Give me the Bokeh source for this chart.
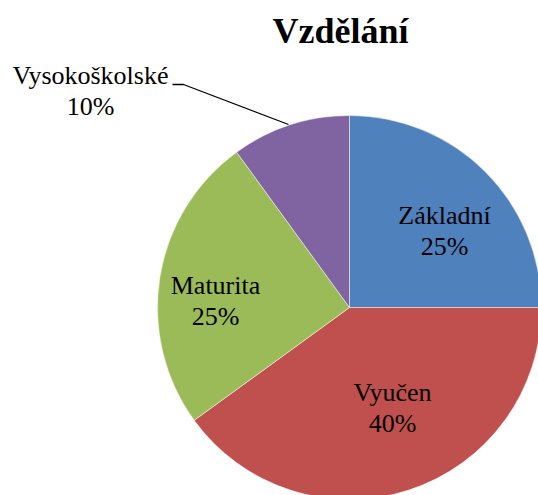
import math
from bokeh.plotting import figure
from bokeh.models import Range1d, ColumnDataSource
from bokeh.core.properties import value
from bokeh.embed import file_html
from bokeh.resources import INLINE

title_text = "Vzdělání"
categories = ["Základní", "Vyučen", "Maturita", "Vysokoškolské"]
values = [25, 40, 25, 10]
colors = ["#4F81BD", "#C0504D", "#9BBB59", "#8064A2"]

W, H = 538, 495
p = figure(width=W, height=H, output_backend="svg", toolbar_location=None,
           x_range=Range1d(0, W), y_range=Range1d(0, H), min_border=0,
           outline_line_color=None)
p.axis.visible = False
p.grid.visible = False
p.background_fill_color = "white"
p.border_fill_color = "white"

# page coords -> data coords
def px(x):
    return x
def py(y):
    return H - y

cx, cy, r = px(349), py(307), 192
total = float(sum(values))
starts, ends = [], []
cum = 0.0
for v in values:
    starts.append(math.pi / 2 - cum / total * 2 * math.pi)
    cum += v
    ends.append(math.pi / 2 - cum / total * 2 * math.pi)

src = ColumnDataSource(dict(x=[cx] * len(values), y=[cy] * len(values),
                            start=starts, end=ends, color=colors))
p.wedge(x="x", y="y", radius=r, start_angle="start", end_angle="end",
        direction="clock", fill_color="color", line_color="white",
        line_width=0.5, source=src)

# leader line for Vysokoškolské
p.line(x=[px(172), px(183), px(288)], y=[py(84), py(84), py(124)],
       line_color="black", line_width=1.3)

# label layout (page coordinates of name baseline center)
label_pos = [(444, 215), (392, 392), (215, 285), (90, 75)]
pct = ["%d%%" % round(v / total * 100) for v in values]
font = value("Liberation Serif")
for name, pc, (lx, ly) in zip(categories, pct, label_pos):
    p.text(x=[px(lx)], y=[py(ly)], text=[name], text_font=font,
           text_font_size="26px", text_align="center",
           text_baseline="alphabetic", text_color="black")
    p.text(x=[px(lx)], y=[py(ly + 31)], text=[pc], text_font=font,
           text_font_size="26px", text_align="center",
           text_baseline="alphabetic", text_color="black")

p.text(x=[px(340)], y=[py(30)], text=[title_text], text_font=font,
       text_font_size="36px", text_font_style="bold", text_align="center",
       text_baseline="alphabetic", text_color="black")

open("out.html", "w").write(file_html(p, INLINE))
